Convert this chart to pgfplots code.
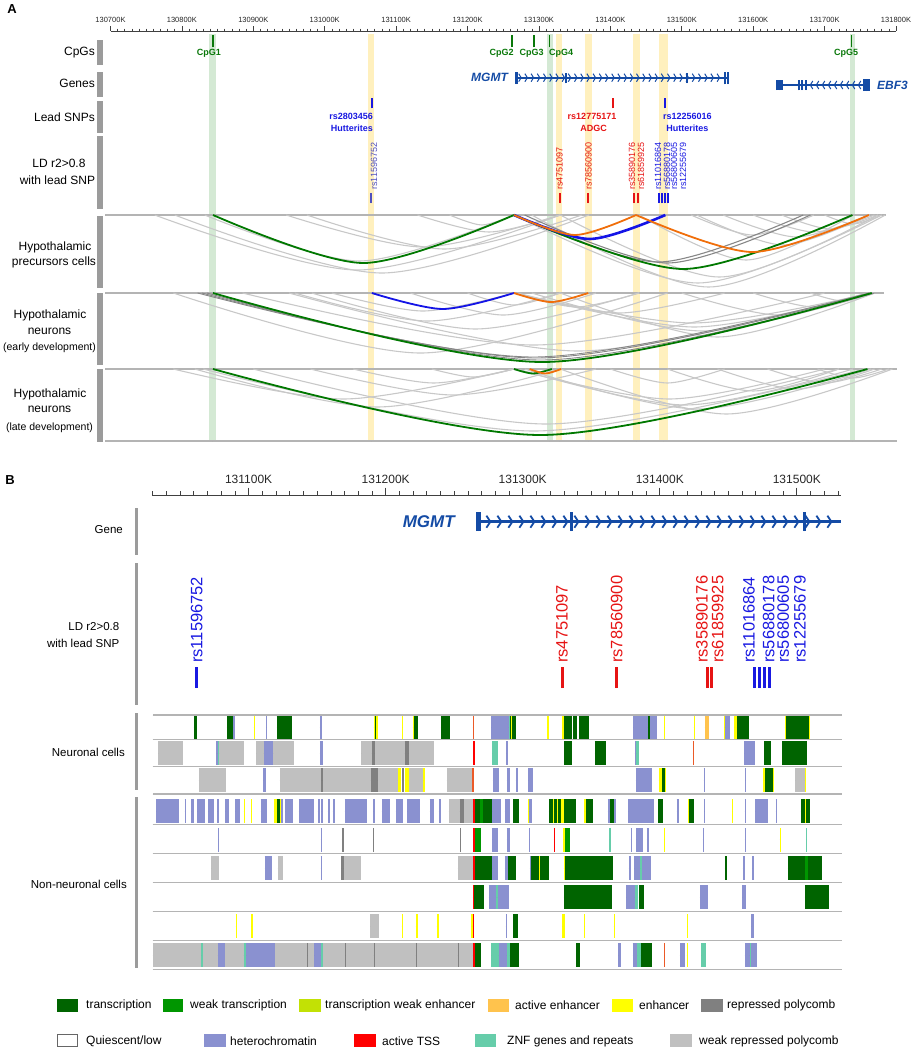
\documentclass[border=0pt]{standalone}
\usepackage{pgfplots}
\pgfplotsset{compat=1.18}
\usepackage{fontspec}
\setmainfont{Liberation Sans}
\usetikzlibrary{decorations.markings,arrows.meta}

\definecolor{cTr}{RGB}{0,100,0}
\definecolor{cWtr}{RGB}{0,150,0}
\definecolor{cTwe}{RGB}{194,225,5}
\definecolor{cAe}{RGB}{255,195,77}
\definecolor{cEn}{RGB}{255,255,0}
\definecolor{cRp}{RGB}{128,128,128}
\definecolor{cHet}{RGB}{138,145,208}
\definecolor{cTss}{RGB}{255,0,0}
\definecolor{cTssO}{RGB}{235,90,40}
\definecolor{cZnf}{RGB}{102,205,170}
\definecolor{cWrp}{RGB}{192,192,192}
\definecolor{gGreen}{RGB}{0,120,0}
\definecolor{gOrange}{RGB}{240,110,10}
\definecolor{gBlue}{RGB}{20,20,230}
\definecolor{gGray}{RGB}{200,200,200}
\definecolor{gDark}{RGB}{135,135,135}
\definecolor{geneBlue}{RGB}{20,75,165}
\definecolor{snpRed}{RGB}{230,20,20}
\definecolor{snpBlue}{RGB}{25,25,225}
\definecolor{snpPurple}{RGB}{80,80,190}
\definecolor{bandY}{RGB}{255,240,190}
\definecolor{bandG}{RGB}{212,233,212}
\definecolor{trackGray}{RGB}{155,155,155}
\definecolor{lineGray}{RGB}{180,180,180}
\definecolor{cpgGreen}{RGB}{10,120,10}

\pgfplotsset{
  hseg/.style 2 args={only marks, mark=*, mark size=0pt, mark options={draw=none, fill=none}, forget plot,
    error bars/.cd, x dir=plus, x explicit, error mark=none,
    error bar style={draw=#1, line width=#2}},
  vseg/.style 2 args={only marks, mark=*, mark size=0pt, mark options={draw=none, fill=none}, forget plot,
    error bars/.cd, y dir=plus, y explicit, error mark=none,
    error bar style={draw=#1, line width=#2}},
  arc/.style 2 args={smooth, mark=none, forget plot, color=#1, line width=#2},
}
\newcommand\fs[1]{\fontsize{#1}{#1}\selectfont}

\begin{document}
\begin{tikzpicture}
\useasboundingbox (0,0) rectangle (913pt,-1050pt);

% ---------------- Panel A ----------------
\node[anchor=center, font=\fs{13}\bfseries] at (12pt,-9pt) {A};
\begin{axis}[
  at={(110.5pt,-441pt)}, anchor=south west,
  scale only axis, width=785.5pt, height=410pt,
  xmin=700, xmax=1800, ymin=-441, ymax=-31,
  axis x line*=top, axis y line=none,
  axis line style={-, draw=black!75, line width=0.8pt},
  xtick={700,800,...,1800},
  xticklabels={130700K,130800K,130900K,131000K,131100K,131200K,131300K,131400K,131500K,131600K,131700K,131800K},
  minor xtick={700,710,...,1800},
  tick align=outside,
  major tick length=5pt, minor tick length=2.5pt,
  tick style={draw=black!75, line width=0.6pt},
  xticklabel style={font=\fs{7.5}, text=black!85},
  /pgf/number format/assume math mode=true,
  clip=false,
]
% highlight bands
\addplot[vseg={bandG}{7pt}] coordinates {(843.5,-441) +- (0,407)};
\addplot[vseg={bandG}{6pt}] coordinates {(1315,-441) +- (0,407)};
\addplot[vseg={bandG}{5.5pt}] coordinates {(1739,-441) +- (0,407)};
\addplot[vseg={bandY}{6pt}] coordinates {(1065.1,-441) +- (0,407)};
\addplot[vseg={bandY}{6pt}] coordinates {(1328.1,-441) +- (0,407)};
\addplot[vseg={bandY}{7pt}] coordinates {(1369.4,-441) +- (0,407)};
\addplot[vseg={bandY}{7pt}] coordinates {(1436.6,-441) +- (0,407)};
\addplot[vseg={bandY}{9pt}] coordinates {(1474.4,-441) +- (0,407)};

% panel separator lines
\addplot[hseg={lineGray}{2pt}] coordinates {(692.3,-215) +- (1093.7,0) (692.3,-293) +- (1091,0) (692.3,-369) +- (1109,0) (692.3,-441) +- (1109,0)};

% CpG ticks and labels
\addplot[vseg={cpgGreen}{1.5pt}] coordinates {(843.5,-47) +- (0,12) (1262,-47) +- (0,12) (1293,-47) +- (0,12) (1315,-47) +- (0,12) (1738,-47) +- (0,12)};
\node[font=\fs{9}\bfseries, text=cpgGreen] at (axis cs:837.9,-53) {CpG1};
\node[font=\fs{9}\bfseries, text=cpgGreen] at (axis cs:1247.6,-53) {CpG2};
\node[font=\fs{9}\bfseries, text=cpgGreen] at (axis cs:1289.6,-53) {CpG3};
\node[font=\fs{9}\bfseries, text=cpgGreen] at (axis cs:1330.9,-53) {CpG4};
\node[font=\fs{9}\bfseries, text=cpgGreen] at (axis cs:1730,-53) {CpG5};

% Genes
\addplot[geneBlue, line width=2.2pt, forget plot, postaction={decorate},
  decoration={markings, mark=between positions 0.03 and 0.99 step 6.2pt with {\arrow{Straight Barb[length=2.5pt, width=8pt, line width=1pt]}}}]
  coordinates {(1267,-77.7) (1565,-77.7)};
\addplot[vseg={geneBlue}{3.5pt}] coordinates {(1268.5,-84) +- (0,12)};
\addplot[vseg={geneBlue}{2pt}] coordinates {(1337.5,-83) +- (0,10) (1507.7,-83) +- (0,10)};
\addplot[vseg={geneBlue}{2.5pt}] coordinates {(1560.5,-84) +- (0,12) (1565,-84) +- (0,12)};
\node[anchor=east, font=\fs{12}\bfseries\itshape, text=geneBlue, inner sep=0pt] at (axis cs:1256.7,-77.5) {MGMT};
\addplot[geneBlue, line width=2.2pt, forget plot, postaction={decorate},
  decoration={markings, mark=between positions 0.36 and 0.9 step 6pt with {\arrowreversed{Straight Barb[length=2.5pt, width=8pt, line width=1pt]}}}]
  coordinates {(1632,-85) (1763,-85)};
\addplot[vseg={geneBlue}{7pt}] coordinates {(1637,-90) +- (0,10)};
\addplot[vseg={geneBlue}{2pt}] coordinates {(1664,-90) +- (0,10) (1669,-90) +- (0,10) (1674,-90) +- (0,10)};
\addplot[vseg={geneBlue}{6.5pt}] coordinates {(1758.5,-91) +- (0,12)};
\node[anchor=west, font=\fs{12}\bfseries\itshape, text=geneBlue, inner sep=0pt] at (axis cs:1773.4,-85.5) {EBF3};

% Lead SNPs
\addplot[vseg={snpBlue}{1.6pt}] coordinates {(1065.8,-108) +- (0,10) (1476.5,-108) +- (0,10)};
\addplot[vseg={snpRed}{1.6pt}] coordinates {(1403.3,-108) +- (0,10)};
\node[anchor=east, inner sep=0pt, font=\fs{9}\bfseries, text=snpBlue] at (axis cs:1067.6,-116) {rs2803456};
\node[anchor=east, inner sep=0pt, font=\fs{9}\bfseries, text=snpBlue] at (axis cs:1067.6,-128.5) {Hutterites};
\node[inner sep=0pt, font=\fs{9}\bfseries, text=snpRed] at (axis cs:1374.3,-116) {rs12775171};
\node[inner sep=0pt, font=\fs{9}\bfseries, text=snpRed] at (axis cs:1376.4,-128.5) {ADGC};
\node[anchor=west, inner sep=0pt, font=\fs{9}\bfseries, text=snpBlue] at (axis cs:1473.7,-116) {rs12256016};
\node[inner sep=0pt, font=\fs{9}\bfseries, text=snpBlue] at (axis cs:1508,-128.5) {Hutterites};

% LD SNPs (panel A)
\addplot[vseg={snpPurple}{1.6pt}] coordinates {(1065.1,-203) +- (0,10)};
\addplot[vseg={snpRed}{1.6pt}] coordinates {(1329.5,-203) +- (0,10) (1368.7,-203) +- (0,10) (1433.1,-203) +- (0,10) (1438.7,-203) +- (0,10)};
\addplot[vseg={snpBlue}{1.6pt}] coordinates {(1468.1,-203) +- (0,10) (1472.3,-203) +- (0,10) (1476.5,-203) +- (0,10) (1480.7,-203) +- (0,10)};
\node[rotate=90, anchor=west, inner sep=0pt, font=\fs{9}, text=snpPurple] at (axis cs:1069,-190) {rs11596752};
\node[rotate=90, anchor=west, inner sep=0pt, font=\fs{9}, text=snpRed] at (axis cs:1328.8,-190) {rs4751097};
\node[rotate=90, anchor=west, inner sep=0pt, font=\fs{9}, text=snpRed] at (axis cs:1369.4,-190) {rs78560900};
\node[rotate=90, anchor=west, inner sep=0pt, font=\fs{9}, text=snpRed] at (axis cs:1430.3,-190) {rs35890176};
\node[rotate=90, anchor=west, inner sep=0pt, font=\fs{9}, text=snpRed] at (axis cs:1442.9,-190) {rs61859925};
\node[rotate=90, anchor=west, inner sep=0pt, font=\fs{9}, text=snpBlue] at (axis cs:1466.7,-190) {rs11016864};
\node[rotate=90, anchor=west, inner sep=0pt, font=\fs{9}, text=snpBlue] at (axis cs:1479.3,-190) {rs56880178};
\node[rotate=90, anchor=west, inner sep=0pt, font=\fs{9}, text=snpBlue] at (axis cs:1489.1,-190) {rs56800605};
\node[rotate=90, anchor=west, inner sep=0pt, font=\fs{9}, text=snpBlue] at (axis cs:1501.7,-190) {rs12255679};

% ---- arcs panel 1 (top 215) ----
\addplot[arc={gGray}{1.1pt}] coordinates {(762,-215) (1046,-270) (1330,-215)};
\addplot[arc={gGray}{1.1pt}] coordinates {(790,-215) (1080,-273) (1370,-215)};
\addplot[arc={gGray}{1.1pt}] coordinates {(832,-215) (1048.5,-261) (1265,-215)};
\addplot[arc={gGray}{1.1pt}] coordinates {(946,-215) (1137.5,-247) (1329,-215)};
\addplot[arc={gGray}{1.1pt}] coordinates {(975,-215) (1167.5,-249) (1360,-215)};
\addplot[arc={gGray}{1.1pt}] coordinates {(1130,-215) (1230,-232) (1330,-215)};
\addplot[arc={gGray}{1.1pt}] coordinates {(1175,-215) (1220,-225) (1265,-215)};
\addplot[arc={gGray}{1.1pt}] coordinates {(1265,-215) (1522.5,-283) (1780,-215)};
\addplot[arc={gGray}{1.1pt}] coordinates {(1290,-215) (1537.5,-287) (1785,-215)};
\addplot[arc={gGray}{1.1pt}] coordinates {(1330,-215) (1552.5,-277) (1775,-215)};
\addplot[arc={gGray}{1.1pt}] coordinates {(1521,-215) (1642,-245) (1763,-215)};
\addplot[arc={gGray}{1.1pt}] coordinates {(1558,-215) (1660.5,-237) (1763,-215)};
\addplot[arc={gGray}{1.1pt}] coordinates {(1600,-215) (1685,-232) (1770,-215)};
\addplot[arc={gGray}{1.1pt}] coordinates {(1440,-215) (1590,-260) (1740,-215)};
\addplot[arc={gGray}{1.1pt}] coordinates {(1513,-215) (1599,-235) (1685,-215)};
\addplot[arc={gGray}{1.1pt}] coordinates {(1640,-215) (1707.5,-229) (1775,-215)};
\addplot[arc={gGray}{1.1pt}] coordinates {(1700,-215) (1740,-224) (1780,-215)};
\addplot[arc={gDark}{1.1pt}] coordinates {(1265,-215) (1467.5,-262) (1670,-215)};
\addplot[arc={gDark}{1.1pt}] coordinates {(1280,-215) (1480,-263) (1680,-215)};
\addplot[arc={gGreen}{1.8pt}] coordinates {(843.5,-215) (1054.25,-263) (1265,-215)};
\addplot[arc={gGreen}{1.8pt}] coordinates {(1265,-215) (1502,-269) (1739,-215)};
\addplot[arc={gBlue}{2.6pt}] coordinates {(1265,-215) (1371,-239) (1477,-215)};
\addplot[arc={gOrange}{1.8pt}] coordinates {(1265,-215) (1350.5,-235) (1436,-215)};
\addplot[arc={gOrange}{1.8pt}] coordinates {(1436,-215) (1599,-252) (1762,-215)};

% ---- arcs panel 2 (top 293) ----
\addplot[arc={gGray}{1.1pt}] coordinates {(788,-293) (1134,-353) (1480,-293)};
\addplot[arc={gGray}{1.1pt}] coordinates {(885,-293) (1292.5,-345) (1700,-293)};
\addplot[arc={gGray}{1.1pt}] coordinates {(958,-293) (1144,-321) (1330,-293)};
\addplot[arc={gGray}{1.1pt}] coordinates {(982,-293) (1211,-329) (1440,-293)};
\addplot[arc={gGray}{1.1pt}] coordinates {(1010,-293) (1137.5,-311) (1265,-293)};
\addplot[arc={gGray}{1.1pt}] coordinates {(1120,-293) (1250,-315) (1380,-293)};
\addplot[arc={gGray}{1.1pt}] coordinates {(1200,-293) (1265,-305) (1330,-293)};
\addplot[arc={gGray}{1.1pt}] coordinates {(1265,-293) (1515,-323) (1765,-293)};
\addplot[arc={gGray}{1.1pt}] coordinates {(1270,-293) (1517.5,-327) (1765,-293)};
\addplot[arc={gGray}{1.1pt}] coordinates {(1290,-293) (1529,-331) (1768,-293)};
\addplot[arc={gGray}{1.1pt}] coordinates {(1330,-293) (1550,-337) (1770,-293)};
\addplot[arc={gGray}{1.1pt}] coordinates {(1265,-293) (1412.5,-313) (1560,-293)};
\addplot[arc={gGray}{1.1pt}] coordinates {(1265,-293) (1352.5,-307) (1440,-293)};
\addplot[arc={gGray}{1.1pt}] coordinates {(1500,-293) (1635,-315) (1770,-293)};
\addplot[arc={gGray}{1.1pt}] coordinates {(1600,-293) (1685,-307) (1770,-293)};
\addplot[arc={gGray}{1.1pt}] coordinates {(1680,-293) (1725,-301) (1770,-293)};
\addplot[arc={gGray}{1.1pt}] coordinates {(950,-293) (1355,-351) (1760,-293)};
\addplot[arc={gDark}{0.9pt}] coordinates {(822,-293) (1292,-357) (1762,-293)};
\addplot[arc={gDark}{0.9pt}] coordinates {(828,-293) (1296.5,-358) (1765,-293)};
\addplot[arc={gDark}{0.9pt}] coordinates {(835,-293) (1302.5,-360) (1770,-293)};
\addplot[arc={gGreen}{1.8pt}] coordinates {(843.5,-293) (1304.75,-362) (1766,-293)};
\addplot[arc={gBlue}{1.8pt}] coordinates {(1066,-293) (1165.5,-309) (1265,-293)};
\addplot[arc={gOrange}{1.8pt}] coordinates {(1265,-293) (1317,-302) (1369,-293)};

% ---- arcs panel 3 (top 369) ----
\addplot[arc={gGray}{1.1pt}] coordinates {(788,-369) (1026.5,-399) (1265,-369)};
\addplot[arc={gGray}{1.1pt}] coordinates {(818,-369) (1074,-407) (1330,-369)};
\addplot[arc={gGray}{1.1pt}] coordinates {(830,-369) (1292.5,-431) (1755,-369)};
\addplot[arc={gGray}{1.1pt}] coordinates {(900,-369) (1310,-424) (1720,-369)};
\addplot[arc={gGray}{1.1pt}] coordinates {(980,-369) (1180,-395) (1380,-369)};
\addplot[arc={gGray}{1.1pt}] coordinates {(1040,-369) (1152.5,-383) (1265,-369)};
\addplot[arc={gGray}{1.1pt}] coordinates {(1150,-369) (1207.5,-377) (1265,-369)};
\addplot[arc={gGray}{1.1pt}] coordinates {(1265,-369) (1482.5,-399) (1700,-369)};
\addplot[arc={gGray}{1.1pt}] coordinates {(1270,-369) (1505,-405) (1740,-369)};
\addplot[arc={gGray}{1.1pt}] coordinates {(1280,-369) (1522.5,-409) (1765,-369)};
\addplot[arc={gGray}{1.1pt}] coordinates {(1330,-369) (1562.5,-414) (1795,-369)};
\addplot[arc={gGray}{1.1pt}] coordinates {(1400,-369) (1480,-383) (1560,-369)};
\addplot[arc={gGray}{1.1pt}] coordinates {(1480,-369) (1600,-391) (1720,-369)};
\addplot[arc={gGray}{1.1pt}] coordinates {(1550,-369) (1660,-389) (1770,-369)};
\addplot[arc={gGray}{1.1pt}] coordinates {(1620,-369) (1700,-383) (1780,-369)};
\addplot[arc={gGray}{1.1pt}] coordinates {(1690,-369) (1740,-378) (1790,-369)};
\addplot[arc={gGreen}{1.8pt}] coordinates {(843.5,-369) (1301.75,-435) (1760,-369)};
\addplot[arc={gGreen}{1.8pt}] coordinates {(1265,-369) (1291.5,-373.5) (1318,-369)};
\addplot[arc={gOrange}{1.8pt}] coordinates {(1287,-369) (1309,-373.5) (1331,-369)};
\end{axis}

% Panel A track bars and labels
\fill[trackGray] (97pt,-40pt) rectangle (102.5pt,-65pt);
\fill[trackGray] (97pt,-72pt) rectangle (102.5pt,-97pt);
\fill[trackGray] (97pt,-101pt) rectangle (102.5pt,-133pt);
\fill[trackGray] (97pt,-136pt) rectangle (102.5pt,-209pt);
\fill[trackGray] (97pt,-216pt) rectangle (102.5pt,-288pt);
\fill[trackGray] (97pt,-293pt) rectangle (102.5pt,-365pt);
\fill[trackGray] (97pt,-369pt) rectangle (102.5pt,-442pt);
\node[anchor=east, inner sep=0pt, font=\fs{12}] at (95pt,-53pt) {CpGs};
\node[anchor=east, inner sep=0pt, font=\fs{12}] at (95pt,-83.5pt) {Genes};
\node[anchor=east, inner sep=0pt, font=\fs{12}] at (95pt,-117pt) {Lead SNPs};
\node[inner sep=0pt, font=\fs{12}] at (59pt,-163pt) {LD r2>0.8};
\node[inner sep=0pt, font=\fs{12}] at (57.5pt,-180pt) {with lead SNP};
\node[inner sep=0pt, font=\fs{12}] at (55pt,-247pt) {Hypothalamic};
\node[inner sep=0pt, font=\fs{12}] at (54pt,-262pt) {precursors cells};
\node[inner sep=0pt, font=\fs{12}] at (50pt,-315pt) {Hypothalamic};
\node[inner sep=0pt, font=\fs{12}] at (49.5pt,-331pt) {neurons};
\node[inner sep=0pt, font=\fs{10.5}] at (49.5pt,-348pt) {(early development)};
\node[inner sep=0pt, font=\fs{12}] at (50pt,-394pt) {Hypothalamic};
\node[inner sep=0pt, font=\fs{12}] at (49.5pt,-409pt) {neurons};
\node[inner sep=0pt, font=\fs{10.5}] at (49.5pt,-428pt) {(late development)};

% ---------------- Panel B ----------------
\node[anchor=center, font=\fs{13}\bfseries] at (10pt,-480pt) {B};
\begin{axis}[
  at={(152pt,-975pt)}, anchor=south west,
  scale only axis, width=688.7pt, height=480pt,
  xmin=29.5, xmax=532, ymin=-975, ymax=-495,
  axis x line*=top, axis y line=none,
  axis line style={-, draw=black!75, line width=0.9pt},
  xtick={100,200,300,400,500},
  xticklabels={131100K,131200K,131300K,131400K,131500K},
  minor xtick={30,40,...,530},
  tick align=outside,
  major tick length=7.5pt, minor tick length=4pt,
  tick style={draw=black!75, line width=0.7pt},
  xticklabel style={font=\fs{12}, text=black!85},
  clip=false,
]
% Gene
\addplot[geneBlue, line width=3.5pt, forget plot, postaction={decorate},
  decoration={markings, mark=between positions 0.04 and 1 step 11pt with {\arrow{Straight Barb[length=4pt, width=12pt, line width=1.8pt]}}}]
  coordinates {(266.6,-521.7) (532,-521.7)};
\addplot[vseg={geneBlue}{5pt}] coordinates {(267.7,-531) +- (0,19)};
\addplot[vseg={geneBlue}{3pt}] coordinates {(335.6,-531) +- (0,19) (505.8,-531) +- (0,19)};
\node[anchor=east, inner sep=0pt, font=\fs{17}\bfseries\itshape, text=geneBlue] at (axis cs:250.5,-521.7) {MGMT};

% LD SNPs
\addplot[vseg={snpBlue}{3pt}] coordinates {(62.1,-688) +- (0,21) (468.8,-688) +- (0,21) (472.7,-688) +- (0,21) (476.6,-688) +- (0,21) (480.3,-688) +- (0,21)};
\addplot[vseg={snpRed}{3pt}] coordinates {(328.8,-688) +- (0,21) (368.4,-688) +- (0,21) (434.8,-688) +- (0,21) (438.0,-688) +- (0,21)};
\node[rotate=90, anchor=west, inner sep=0pt, font=\fs{16.5}, text=snpBlue] at (axis cs:62.1,-663) {rs11596752};
\node[rotate=90, anchor=west, inner sep=0pt, font=\fs{16.5}, text=snpRed] at (axis cs:328.6,-663) {rs4751097};
\node[rotate=90, anchor=west, inner sep=0pt, font=\fs{16.5}, text=snpRed] at (axis cs:368.5,-663) {rs78560900};
\node[rotate=90, anchor=west, inner sep=0pt, font=\fs{16.5}, text=snpRed] at (axis cs:430.7,-663) {rs35890176};
\node[rotate=90, anchor=west, inner sep=0pt, font=\fs{16.5}, text=snpRed] at (axis cs:442.3,-663) {rs61859925};
\node[rotate=90, anchor=west, inner sep=0pt, font=\fs{16.5}, text=snpBlue] at (axis cs:465.0,-663) {rs11016864};
\node[rotate=90, anchor=west, inner sep=0pt, font=\fs{16.5}, text=snpBlue] at (axis cs:479.5,-663) {rs56880178};
\node[rotate=90, anchor=west, inner sep=0pt, font=\fs{16.5}, text=snpBlue] at (axis cs:490.0,-663) {rs56800605};
\node[rotate=90, anchor=west, inner sep=0pt, font=\fs{16.5}, text=snpBlue] at (axis cs:502.2,-663) {rs12255679};

% Chromatin states: weak repressed polycomb
\addplot[hseg={cWrp}{24pt}] coordinates {
(33.9,-753) +- (18.2,0) (78.6,-753) +- (18.0,0) (105.6,-753) +- (5.3,0) (117.8,-753) +- (15.1,0) (182.2,-753) +- (7.8,0) (191.9,-753) +- (21.9,0) (216.9,-753) +- (18.7,0)
(63.6,-780) +- (20.2,0) (122.6,-780) +- (30.4,0) (154.2,-780) +- (34.8,0) (194.3,-780) +- (14.6,0) (216.7,-780) +- (11.2,0) (244.7,-780) +- (19.0,0) (499.0,-780) +- (6.8,0)
(246.1,-811) +- (17.5,0)
(72.8,-868) +- (5.6,0) (121.4,-868) +- (3.6,0) (169.5,-868) +- (12.6,0) (252.7,-868) +- (10.9,0)
(188.8,-926) +- (6.3,0)
(30.2,-955) +- (233.4,0)
};
% heterochromatin
\addplot[hseg={cHet}{24pt}] coordinates {
(88.8,-727.5) +- (1.5,0) (112.9,-727.5) +- (0.7,0) (152.0,-727.5) +- (1.9,0) (277.0,-727.5) +- (12.9,0) (380.6,-727.5) +- (17.7,0) (447.7,-727.5) +- (3.2,0)
(76.4,-753) +- (1.2,0) (110.9,-753) +- (6.8,0) (152.0,-753) +- (2.4,0) (288.0,-753) +- (1.2,0) (381.8,-753) +- (1.2,0) (461.5,-753) +- (8.3,0)
(110.5,-780) +- (2.4,0) (278.2,-780) +- (4.4,0) (288.2,-780) +- (2.7,0) (295.0,-780) +- (1.2,0) (304.0,-780) +- (3.4,0) (382.3,-780) +- (11.7,0) (432.1,-780) +- (0.7,0) (462.5,-780) +- (0.7,0)
(32.7,-811) +- (16.5,0) (53.3,-811) +- (0.7,0) (58.2,-811) +- (1.7,0) (62.6,-811) +- (5.3,0) (70.4,-811) +- (4.1,0) (77.2,-811) +- (1.0,0) (83.0,-811) +- (2.7,0) (90.3,-811) +- (3.6,0) (108.8,-811) +- (4.9,0) (123.8,-811) +- (1.2,0) (126.8,-811) +- (5.6,0) (136.5,-811) +- (10.9,0) (150.6,-811) +- (1.2,0) (153.0,-811) +- (1.2,0) (157.9,-811) +- (1.2,0) (161.5,-811) +- (1.2,0) (170.0,-811) +- (16.3,0) (190.9,-811) +- (1.2,0) (197.3,-811) +- (6.1,0) (207.2,-811) +- (5.3,0) (215.7,-811) +- (9.0,0) (232.0,-811) +- (3.6,0) (238.8,-811) +- (1.7,0) (277.7,-811) +- (6.4,0) (287.0,-811) +- (3.4,0) (304.7,-811) +- (2.2,0) (361.9,-811) +- (5.8,0) (376.9,-811) +- (19.0,0) (412.2,-811) +- (1.9,0) (432.4,-811) +- (0.7,0) (462.0,-811) +- (0.7,0) (469.8,-811) +- (8.8,0) (484.6,-811) +- (0.7,0)
(77.7,-839.5) +- (0.7,0) (152.5,-839.5) +- (1.0,0) (277.7,-839.5) +- (4.1,0) (288.2,-839.5) +- (2.2,0) (304.7,-839.5) +- (0.7,0) (378.9,-839.5) +- (0.7,0) (383.0,-839.5) +- (4.9,0) (390.6,-839.5) +- (1.7,0) (431.4,-839.5) +- (0.7,0) (462.0,-839.5) +- (0.5,0)
(111.7,-868) +- (5.6,0) (152.5,-868) +- (1.0,0) (277.7,-868) +- (3.9,0) (287.0,-868) +- (2.4,0) (305.0,-868) +- (1.0,0) (377.4,-868) +- (1.5,0) (381.3,-868) +- (12.6,0) (460.6,-868) +- (1.9,0) (467.4,-868) +- (1.2,0)
(275.1,-897) +- (5.6,0) (281.6,-897) +- (8.3,0) (375.7,-897) +- (6.1,0) (429.2,-897) +- (6.1,0) (460.3,-897) +- (2.9,0)
(287.7,-926) +- (0.7,0) (466.9,-926) +- (1.9,0)
(77.6,-955) +- (5.3,0) (98.3,-955) +- (21.2,0) (147.7,-955) +- (4.9,0) (282.6,-955) +- (5.6,0) (369.6,-955) +- (2.4,0) (380.1,-955) +- (3.6,0) (414.6,-955) +- (3.6,0) (462.0,-955) +- (9.0,0)
};
% transcription
\addplot[hseg={cTr}{24pt}] coordinates {
(60.1,-727.5) +- (1.9,0) (84.2,-727.5) +- (4.6,0) (120.4,-727.5) +- (11.2,0) (192.2,-727.5) +- (0.7,0) (220.4,-727.5) +- (3.2,0) (240.3,-727.5) +- (6.6,0) (290.9,-727.5) +- (4.4,0) (330.3,-727.5) +- (5.8,0) (336.8,-727.5) +- (2.9,0) (341.0,-727.5) +- (7.3,0) (391.3,-727.5) +- (1.5,0) (456.0,-727.5) +- (9.2,0) (492.4,-727.5) +- (16.3,0)
(330.3,-753) +- (5.6,0) (352.6,-753) +- (8.3,0) (476.1,-753) +- (4.9,0) (489.3,-753) +- (18.2,0)
(401.7,-780) +- (1.9,0) (476.6,-780) +- (6.3,0)
(120.9,-811) +- (1.7,0) (265.3,-811) +- (12.4,0) (293.1,-811) +- (4.1,0) (319.1,-811) +- (19.4,0) (345.8,-811) +- (5.6,0) (363.6,-811) +- (3.2,0) (398.8,-811) +- (3.9,0) (421.4,-811) +- (3.4,0) (502.9,-811) +- (6.6,0)
(265.3,-868) +- (12.4,0) (289.4,-868) +- (5.8,0) (305.9,-868) +- (13.1,0) (330.8,-868) +- (35.2,0) (447.4,-868) +- (1.9,0) (493.2,-868) +- (25.5,0)
(264.8,-897) +- (6.8,0) (330.0,-897) +- (34.8,0) (384.7,-897) +- (3.6,0) (505.8,-897) +- (17.7,0)
(293.1,-926) +- (3.6,0)
(265.3,-955) +- (4.4,0) (290.6,-955) +- (6.6,0) (339.0,-955) +- (2.9,0) (386.2,-955) +- (7.8,0)
};
% weak transcription
\addplot[hseg={cWtr}{24pt}] coordinates {
(268.5,-811) +- (2.4,0) (265.3,-839.5) +- (4.4,0) (330.8,-839.5) +- (3.4,0) (505.8,-868) +- (2.4,0)
};
% enhancer
\addplot[hseg={cEn}{24pt}] coordinates {
(103.7,-727.5) +- (0.7,0) (191.2,-727.5) +- (1.0,0) (192.9,-727.5) +- (1.5,0) (212.1,-727.5) +- (0.7,0) (219.9,-727.5) +- (0.5,0) (291.4,-727.5) +- (0.5,0) (317.9,-727.5) +- (1.5,0) (328.8,-727.5) +- (1.5,0) (403.4,-727.5) +- (0.7,0) (424.6,-727.5) +- (0.7,0) (447.0,-727.5) +- (0.7,0) (454.5,-727.5) +- (1.5,0) (491.2,-727.5) +- (1.2,0) (508.7,-727.5) +- (0.7,0)
(208.9,-780) +- (2.4,0) (213.8,-780) +- (2.9,0) (227.4,-780) +- (1.5,0) (399.3,-780) +- (2.4,0) (403.6,-780) +- (0.6,0) (475.4,-780) +- (1.2,0) (482.9,-780) +- (0.5,0) (505.8,-780) +- (0.5,0)
(96.4,-811) +- (0.7,0) (102.0,-811) +- (0.7,0) (118.3,-811) +- (2.6,0) (122.6,-811) +- (1.3,0) (304.0,-811) +- (0.7,0) (322.2,-811) +- (0.5,0) (325.2,-811) +- (0.5,0) (327.8,-811) +- (2.4,0) (344.9,-811) +- (1.0,0) (420.7,-811) +- (0.7,0) (453.0,-811) +- (0.7,0) (505.8,-811) +- (0.5,0)
(329.5,-839.5) +- (1.2,0) (403.4,-839.5) +- (0.7,0) (487.6,-839.5) +- (0.5,0)
(312.0,-868) +- (0.5,0) (330.0,-868) +- (0.7,0)
(90.5,-926) +- (1.0,0) (102.0,-926) +- (1.5,0) (211.8,-926) +- (1.2,0) (222.1,-926) +- (1.7,0) (237.4,-926) +- (1.2,0) (262.4,-926) +- (1.2,0) (328.8,-926) +- (1.9,0) (344.9,-926) +- (0.7,0) (366.5,-926) +- (1.0,0) (420.0,-926) +- (0.7,0)
(419.5,-955) +- (0.7,0)
};
% active enhancer
\addplot[hseg={cAe}{24pt}] coordinates {(432.9,-727.5) +- (2.9,0)};
% repressed polycomb
\addplot[hseg={cRp}{24pt}] coordinates {
(190.0,-753) +- (1.9,0) (213.8,-753) +- (3.2,0)
(153.0,-780) +- (1.2,0) (189.0,-780) +- (5.3,0) (211.8,-780) +- (1.9,0)
(253.9,-811) +- (3.6,0)
(168.1,-839.5) +- (1.2,0) (190.9,-839.5) +- (0.7,0) (254.4,-839.5) +- (0.7,0)
(167.6,-868) +- (1.9,0)
(142.8,-955) +- (0.5,0) (170.5,-955) +- (0.5,0) (191.4,-955) +- (0.5,0) (221.8,-955) +- (0.6,0) (252.7,-955) +- (0.5,0)
};
% ZNF genes and repeats
\addplot[hseg={cZnf}{24pt}] coordinates {
(289.9,-727.5) +- (1.0,0)
(77.6,-753) +- (1.0,0) (277.7,-753) +- (3.9,0) (383.0,-753) +- (1.7,0)
(363.1,-839.5) +- (1.0,0) (507.0,-839.5) +- (0.7,0)
(385.9,-868) +- (1.2,0)
(280.6,-897) +- (1.2,0) (381.8,-897) +- (2.4,0)
(65.5,-955) +- (1.2,0) (96.6,-955) +- (1.7,0) (152.5,-955) +- (1.7,0) (277.0,-955) +- (5.6,0) (288.2,-955) +- (2.4,0) (383.7,-955) +- (2.4,0) (430.4,-955) +- (3.2,0) (465.7,-955) +- (0.5,0)
};
% active TSS
\addplot[hseg={cTss}{24pt}] coordinates {
(263.9,-753) +- (1.0,0) (263.6,-811) +- (1.7,0) (263.6,-839.5) +- (1.7,0) (322.7,-839.5) +- (0.5,0) (263.6,-868) +- (1.7,0) (263.6,-897) +- (1.2,0) (263.6,-926) +- (1.2,0) (263.6,-955) +- (1.7,0)
};
\addplot[hseg={cTssO}{24pt}] coordinates {
(263.6,-727.5) +- (1.0,0) (424.1,-753) +- (0.7,0) (263.1,-780) +- (1.0,0) (403.4,-955) +- (0.7,0)
};
% row separators
\addplot[hseg={lineGray}{1.5pt}] coordinates {
(30.2,-715) +- (503,0) (30.2,-739.5) +- (503,0) (30.2,-766.5) +- (503,0) (30.2,-794) +- (503,0)
(30.2,-824.5) +- (503,0) (30.2,-853.5) +- (503,0) (30.2,-882.5) +- (503,0) (30.2,-911.5) +- (503,0) (30.2,-940.5) +- (503,0) (30.2,-969.5) +- (503,0)
};
\end{axis}

% Panel B track bars and labels
\fill[trackGray] (134.8pt,-508pt) rectangle (137.5pt,-555pt);
\fill[trackGray] (134.8pt,-563pt) rectangle (137.5pt,-705pt);
\fill[trackGray] (134.8pt,-713pt) rectangle (137.5pt,-790pt);
\fill[trackGray] (134.8pt,-797pt) rectangle (137.5pt,-968pt);
\node[anchor=east, inner sep=0pt, font=\fs{11.5}] at (123pt,-530pt) {Gene};
\node[anchor=east, inner sep=0pt, font=\fs{11.5}] at (119.5pt,-627pt) {LD r2>0.8};
\node[anchor=east, inner sep=0pt, font=\fs{11.5}] at (119.5pt,-643pt) {with lead SNP};
\node[anchor=east, inner sep=0pt, font=\fs{11.5}] at (125pt,-752pt) {Neuronal cells};
\node[anchor=east, inner sep=0pt, font=\fs{11.5}] at (127pt,-884pt) {Non-neuronal cells};

% Legend
\fill[cTr] (57pt,-999pt) rectangle (78pt,-1012pt);
\node[anchor=west, inner sep=0pt, font=\fs{12}] at (86pt,-1005.5pt) {transcription};
\fill[cWtr] (163pt,-999pt) rectangle (183pt,-1012pt);
\node[anchor=west, inner sep=0pt, font=\fs{12}] at (190pt,-1005.5pt) {weak transcription};
\fill[cTwe] (299pt,-999pt) rectangle (321pt,-1012pt);
\node[anchor=west, inner sep=0pt, font=\fs{12}] at (325pt,-1005.5pt) {transcription weak enhancer};
\fill[cAe] (488pt,-999pt) rectangle (509pt,-1012pt);
\node[anchor=west, inner sep=0pt, font=\fs{12}] at (515pt,-1005.5pt) {active enhancer};
\fill[cEn] (612pt,-999pt) rectangle (633pt,-1012pt);
\node[anchor=west, inner sep=0pt, font=\fs{12}] at (639pt,-1005.5pt) {enhancer};
\fill[cRp] (701pt,-999pt) rectangle (723pt,-1012pt);
\node[anchor=west, inner sep=0pt, font=\fs{12}] at (727pt,-1005.5pt) {repressed polycomb};
\filldraw[fill=white, draw=black!60, line width=0.8pt] (57.5pt,-1034.5pt) rectangle (77.5pt,-1046.5pt);
\node[anchor=west, inner sep=0pt, font=\fs{12}] at (86pt,-1041pt) {Quiescent/low};
\fill[cHet] (204pt,-1034pt) rectangle (226pt,-1047pt);
\node[anchor=west, inner sep=0pt, font=\fs{12}] at (230pt,-1041pt) {heterochromatin};
\fill[cTss] (354pt,-1034pt) rectangle (376pt,-1047pt);
\node[anchor=west, inner sep=0pt, font=\fs{12}] at (382pt,-1041pt) {active TSS};
\fill[cZnf] (475pt,-1034pt) rectangle (496pt,-1047pt);
\node[anchor=west, inner sep=0pt, font=\fs{12}] at (507pt,-1041pt) {ZNF genes and repeats};
\fill[cWrp] (670pt,-1034pt) rectangle (692pt,-1047pt);
\node[anchor=west, inner sep=0pt, font=\fs{12}] at (699pt,-1041pt) {weak repressed polycomb};
\end{tikzpicture}
\end{document}
